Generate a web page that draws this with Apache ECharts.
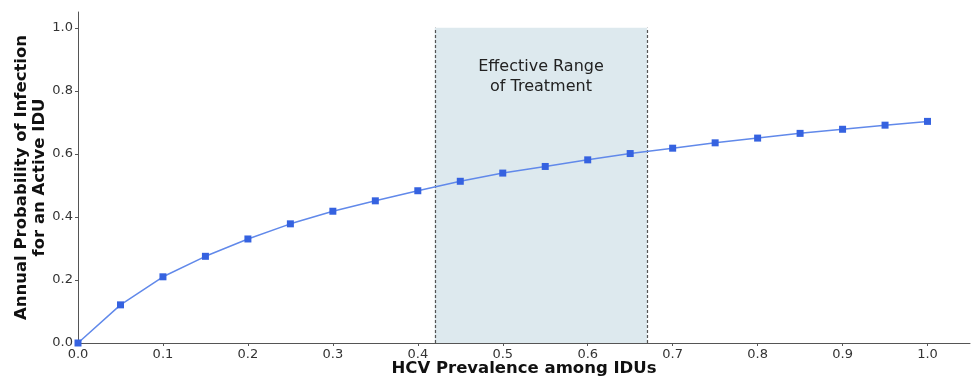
<!DOCTYPE html>
<html>
<head>
<meta charset="utf-8">
<script src="https://cdn.jsdelivr.net/npm/echarts@6/dist/echarts.min.js"></script>
<style>
  html, body { margin: 0; padding: 0; background: #fff; }
  #chart { width: 971px; height: 381px; }
</style>
</head>
<body>
<div id="chart"></div>
<script>
// HCV prevalence among IDUs (x) vs. annual probability of infection (y)
const prevalence = [0.0, 0.05, 0.1, 0.15, 0.2, 0.25, 0.3, 0.35, 0.4, 0.45, 0.5,
                    0.55, 0.6, 0.65, 0.7, 0.75, 0.8, 0.85, 0.9, 0.95, 1.0];
const infectionProb = [0.0, 0.121, 0.210, 0.275, 0.330, 0.378, 0.418, 0.451, 0.483, 0.513, 0.539,
                       0.560, 0.581, 0.601, 0.618, 0.635, 0.650, 0.665, 0.678, 0.691, 0.703];

// Effective treatment window on the prevalence axis
const treatmentRange = [0.42, 0.67];
const treatmentLabel = 'Effective Range\nof Treatment';

const xTicks = [0.0, 0.1, 0.2, 0.3, 0.4, 0.5, 0.6, 0.7, 0.8, 0.9, 1.0];
const yTicks = [0.0, 0.2, 0.4, 0.6, 0.8, 1.0];

const xTitle = 'HCV Prevalence among IDUs';
const yTitle = 'Annual Probability of Infection\nfor an Active IDU';

const FONT = 'DejaVu Sans';
const chart = echarts.init(document.getElementById('chart'), null, { renderer: 'canvas' });

const points = prevalence.map((x, i) => [x, infectionProb[i]]);

const axisCommon = {
  type: 'value', min: 0, max: 1.05,
  nameLocation: 'middle',
  nameMoveOverlap: false,
  nameTextStyle: { fontFamily: FONT, fontWeight: 'bold', fontSize: 16.5, color: '#111', lineHeight: 18 },
  splitLine: { show: false },
  axisLine: { show: true, onZero: false, lineStyle: { color: '#555', width: 1 } }
};

chart.setOption({
  animation: false,
  backgroundColor: '#ffffff',
  grid: { left: 78, right: 1, top: 12, bottom: 38, containLabel: false, outerBoundsMode: 'none' },
  xAxis: Object.assign({}, axisCommon, {
    name: xTitle,
    nameGap: 17,
    axisTick: { show: true, length: 3, customValues: xTicks, lineStyle: { color: '#555' } },
    axisLabel: {
      customValues: xTicks, margin: 5,
      color: '#333', fontFamily: FONT, fontSize: 13,
      formatter: v => v.toFixed(1)
    }
  }),
  yAxis: Object.assign({}, axisCommon, {
    name: yTitle,
    nameGap: 29,
    axisTick: { show: true, length: 3, customValues: yTicks, lineStyle: { color: '#555' } },
    axisLabel: {
      customValues: yTicks, margin: 5,
      color: '#333', fontFamily: FONT, fontSize: 13,
      formatter: v => v.toFixed(1)
    }
  }),
  series: [
    {
      type: 'line',
      data: points,
      symbol: 'rect',
      symbolSize: 7,
      showAllSymbol: true,
      lineStyle: { color: '#6189ea', width: 1.5 },
      itemStyle: { color: '#3562e0' },
      z: 5,
      markArea: {
        silent: true,
        itemStyle: { color: '#dde9ee' },
        label: {
          show: true, position: 'insideTop', distance: 29,
          formatter: treatmentLabel,
          color: '#222', fontFamily: FONT, fontSize: 16, lineHeight: 20
        },
        data: [[
          { coord: [treatmentRange[0], 0] },
          { coord: [treatmentRange[1], 1.0] }
        ]]
      },
      markLine: {
        silent: true,
        symbol: 'none',
        label: { show: false },
        lineStyle: { color: '#555', type: [3, 2], width: 1.2 },
        data: treatmentRange.map(x => [
          { coord: [x, 0] },
          { coord: [x, 1.0] }
        ])
      }
    }
  ]
});
</script>
</body>
</html>
